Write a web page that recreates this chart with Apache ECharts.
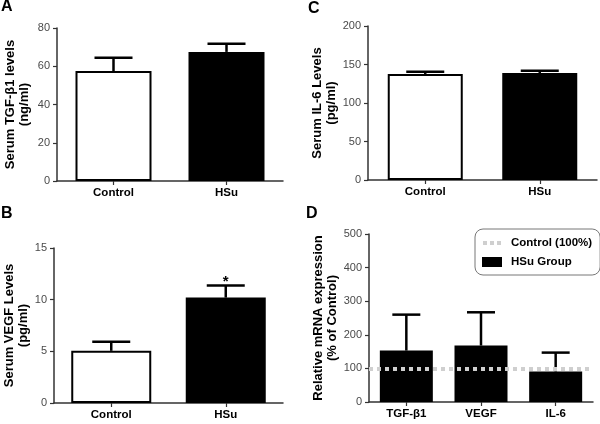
<!DOCTYPE html>
<html>
<head>
<meta charset="utf-8">
<script src="https://cdn.jsdelivr.net/npm/echarts@6/dist/echarts.min.js"></script>
<style>
html,body{margin:0;padding:0;background:#fff;}
#c{width:600px;height:424px;}
</style>
</head>
<body>
<div id="c"></div>
<script>
// ---- data ----
const groups = ['Control', 'HSu'];
const tgfSerum = [57.5, 67.5];
const tgfSerumErr = [7.0, 4.3];
const il6Serum = [137.7, 139.0];
const il6SerumErr = [2.8, 2.8];
const vegfSerum = [5.05, 10.2];
const vegfSerumErr = [0.88, 1.18];
const vegfSig = ['', '*'];
const genes = ['TGF-β1', 'VEGF', 'IL-6'];
const mrnaHSu = [153, 168, 91];
const mrnaHSuErr = [107, 99, 56];
const controlLevel = 100;

const tickA = [0, 80, 20];
const tickB = [0, 15, 5];
const tickC = [0, 200, 50];
const tickD = [0, 500, 100];

// ---- styles ----
const groupFills = ['#ffffff', '#000000'];
const FONT = 'Liberation Sans, Arial, sans-serif';
const axisColor = '#333';

function valueAxis(gi, t, name, gap) {
  return {
    type: 'value', gridIndex: gi, min: t[0], max: t[1], interval: t[2],
    name: name, nameLocation: 'middle', nameRotate: 90, nameGap: gap,
    nameTextStyle: {fontFamily: FONT, fontWeight: 'bold', fontSize: 13, color: '#000', lineHeight: 14},
    axisLine: {show: true, lineStyle: {color: axisColor, width: 1.5}},
    axisTick: {show: true, length: 4, lineStyle: {color: axisColor, width: 1.2}},
    axisLabel: {fontFamily: FONT, fontSize: 11, color: '#4a4a4a', margin: 7},
    splitLine: {show: false}
  };
}
function catAxis(gi, cats) {
  return {
    type: 'category', gridIndex: gi, data: cats,
    axisLine: {show: true, lineStyle: {color: axisColor, width: 1.5}},
    axisTick: {show: true, alignWithLabel: true, length: 4, lineStyle: {color: axisColor, width: 1.2}},
    axisLabel: {fontFamily: FONT, fontSize: 11.5, fontWeight: 'bold', color: '#000', margin: 6}
  };
}
function barSeries(ai, vals, fills, width, name) {
  return {
    type: 'bar', name: name, xAxisIndex: ai, yAxisIndex: ai, barWidth: width, z: 2,
    data: vals.map((v, i) => ({value: v, itemStyle: {color: fills[i]}})),
    itemStyle: {borderColor: '#000', borderWidth: 2}
  };
}
function errSeries(ai, vals, errs, cap, sig) {
  return {
    type: 'custom', xAxisIndex: ai, yAxisIndex: ai, z: 4, silent: true,
    data: vals.map((v, i) => [i, v, v + errs[i]]),
    encode: {x: 0, y: [1, 2]},
    renderItem: function (params, api) {
      const x = api.value(0);
      const p1 = api.coord([x, api.value(1)]);
      const p2 = api.coord([x, api.value(2)]);
      const st = {stroke: '#000', lineWidth: 2.5};
      const ch = [
        {type: 'line', shape: {x1: p1[0], y1: p1[1], x2: p2[0], y2: p2[1]}, style: st},
        {type: 'line', shape: {x1: p2[0] - cap / 2, y1: p2[1], x2: p2[0] + cap / 2, y2: p2[1]}, style: st}
      ];
      if (sig && sig[params.dataIndex]) {
        ch.push({type: 'text', style: {text: sig[params.dataIndex], x: p2[0], y: p2[1] + 4,
          textAlign: 'center', textVerticalAlign: 'bottom', fill: '#000',
          font: 'bold 15px ' + FONT}});
      }
      return {type: 'group', children: ch};
    }
  };
}

const option = {
  backgroundColor: '#fff',
  animation: false,
  title: [
    {text: 'A', left: 1, top: -1},
    {text: 'C', left: 308, top: 1},
    {text: 'B', left: 1, top: 206},
    {text: 'D', left: 306, top: 206}
  ].map(t => Object.assign(t, {padding: 0, textStyle: {fontFamily: FONT, fontWeight: 'bold', fontSize: 16, color: '#000'}})),
  grid: [
    {left: 57, top: 28, width: 226, height: 153},
    {left: 368, top: 26, width: 229, height: 154},
    {left: 54, top: 248, width: 229, height: 155},
    {left: 369, top: 234, width: 224, height: 168}
  ],
  xAxis: [catAxis(0, groups), catAxis(1, groups), catAxis(2, groups), catAxis(3, genes)],
  yAxis: [
    valueAxis(0, tickA, 'Serum TGF-β1 levels\n(ng/ml)', 26),
    valueAxis(1, tickC, 'Serum IL-6 Levels\n(pg/ml)', 26),
    valueAxis(2, tickB, 'Serum VEGF Levels\n(pg/ml)', 24),
    valueAxis(3, tickD, 'Relative mRNA expression\n(% of Control)', 26)
  ],
  legend: {
    orient: 'vertical', left: 475, top: 229, width: 108,
    padding: [8, 8, 7, 7], itemGap: 7, itemWidth: 18, itemHeight: 8,
    backgroundColor: '#fff', borderColor: '#777', borderWidth: 1, borderRadius: 8,
    textStyle: {fontFamily: FONT, fontWeight: 'bold', fontSize: 11.5, color: '#000', padding: [0, 0, 0, 5], lineHeight: 12},
    data: [
      {name: 'Control (100%)', icon: 'path://M0,0h4v4h-4zM7,0h4v4h-4zM14,0h4v4h-4z', itemStyle: {color: '#cfcfcf'}},
      {name: 'HSu Group', icon: 'rect', itemStyle: {color: '#000'}}
    ]
  },
  series: [
    barSeries(0, tgfSerum, groupFills, 76),
    errSeries(0, tgfSerum, tgfSerumErr, 38),
    barSeries(1, il6Serum, groupFills, 75),
    errSeries(1, il6Serum, il6SerumErr, 38),
    barSeries(2, vegfSerum, groupFills, 80),
    errSeries(2, vegfSerum, vegfSerumErr, 38, vegfSig),
    barSeries(3, mrnaHSu, genes.map(() => '#000'), 53, 'HSu Group'),
    errSeries(3, mrnaHSu, mrnaHSuErr, 28),
    {
      type: 'line', name: 'Control (100%)', xAxisIndex: 3, yAxisIndex: 3, z: 5,
      data: [], symbol: 'none', color: '#cfcfcf',
      lineStyle: {color: '#cfcfcf', width: 4, type: [4, 4]},
      markLine: {
        silent: true, symbol: 'none', label: {show: false},
        lineStyle: {color: '#cfcfcf', width: 4, type: [4, 4], cap: 'butt'},
        data: [{yAxis: controlLevel}]
      }
    }
  ]
};
const chart = echarts.init(document.getElementById('c'), null, {renderer: 'canvas'});
chart.setOption(option);
</script>
</body>
</html>
